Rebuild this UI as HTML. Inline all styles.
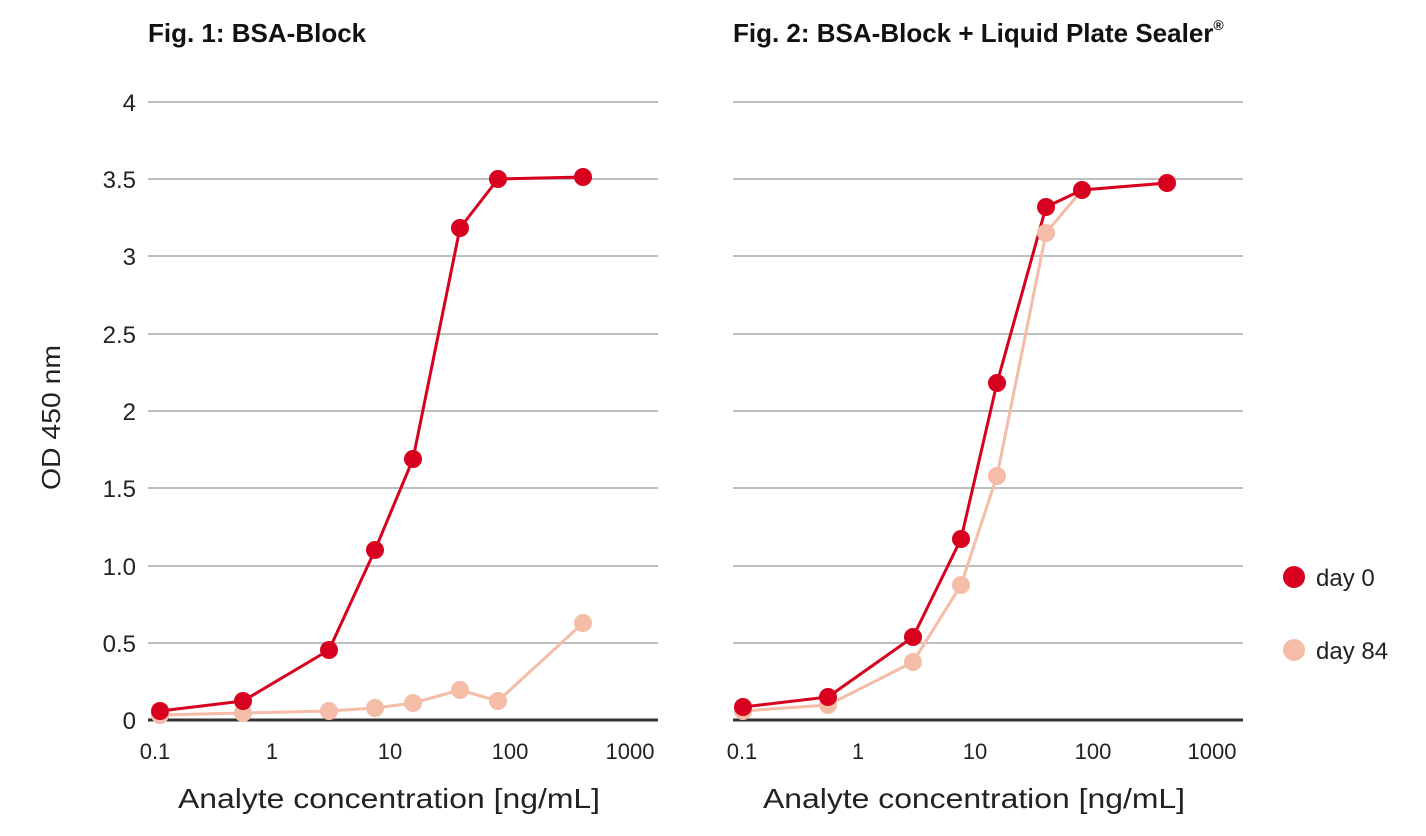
<!DOCTYPE html>
<html><head><meta charset="utf-8"><style>
body{margin:0;background:#fff}
svg text{font-family:"Liberation Sans",sans-serif}
</style></head><body>
<svg width="1426" height="831" viewBox="0 0 1426 831" xmlns="http://www.w3.org/2000/svg">
<g font-size="26" font-weight="bold" fill="#111">
<text x="148" y="42">Fig. 1: BSA-Block</text>
<text x="733" y="42">Fig. 2: BSA-Block + Liquid Plate Sealer<tspan font-size="14" dy="-12">®</tspan></text>
</g>
<g stroke="#a8a8a8" stroke-width="1.5">
<line x1="148" x2="658" y1="102" y2="102"/><line x1="148" x2="658" y1="179" y2="179"/><line x1="148" x2="658" y1="256" y2="256"/><line x1="148" x2="658" y1="334" y2="334"/><line x1="148" x2="658" y1="411" y2="411"/><line x1="148" x2="658" y1="488" y2="488"/><line x1="148" x2="658" y1="566" y2="566"/><line x1="148" x2="658" y1="643" y2="643"/>
<line x1="733" x2="1243" y1="102" y2="102"/><line x1="733" x2="1243" y1="179" y2="179"/><line x1="733" x2="1243" y1="256" y2="256"/><line x1="733" x2="1243" y1="334" y2="334"/><line x1="733" x2="1243" y1="411" y2="411"/><line x1="733" x2="1243" y1="488" y2="488"/><line x1="733" x2="1243" y1="566" y2="566"/><line x1="733" x2="1243" y1="643" y2="643"/>
</g>
<g stroke="#333" stroke-width="3"><line x1="148" x2="658" y1="720" y2="720"/><line x1="733" x2="1243" y1="720" y2="720"/></g>
<g font-size="24" fill="#222" text-anchor="end">
<text x="136" y="111">4</text><text x="136" y="188">3.5</text><text x="136" y="265">3</text><text x="136" y="343">2.5</text><text x="136" y="420">2</text><text x="136" y="497">1.5</text><text x="136" y="575">1.0</text><text x="136" y="652">0.5</text><text x="136" y="729">0</text>
</g>
<g font-size="22" fill="#222" text-anchor="middle">
<text x="155" y="759">0.1</text><text x="272" y="759">1</text><text x="390" y="759">10</text><text x="510" y="759">100</text><text x="630" y="759">1000</text>
<text x="742" y="759">0.1</text><text x="858" y="759">1</text><text x="975" y="759">10</text><text x="1093" y="759">100</text><text x="1212" y="759">1000</text>
</g>
<g font-size="28" fill="#222">
<text x="178" y="808" textLength="422" lengthAdjust="spacingAndGlyphs">Analyte concentration [ng/mL]</text>
<text x="763" y="808" textLength="422" lengthAdjust="spacingAndGlyphs">Analyte concentration [ng/mL]</text>
<text transform="translate(60,490) rotate(-90)" font-size="26" textLength="145" lengthAdjust="spacingAndGlyphs">OD 450 nm</text>
</g>
<g fill="none" stroke-width="3" stroke-linejoin="round">
<polyline stroke="#f5bca8" points="160,715 243,713 329,711 375,708 413,703 460,690 498,701 583,623"/>
<polyline stroke="#d7001f" points="160,711 243,701 329,650 375,550 413,459 460,228 498,179 583,177"/>
<polyline stroke="#f5bca8" points="743,711 828,705 913,662 961,585 997,476 1046,233 1082,190 1167,183"/>
<polyline stroke="#d7001f" points="743,707 828,697 913,637 961,539 997,383 1046,207 1082,190 1167,183"/>
</g>
<g fill="#f5bca8">
<circle cx="160" cy="715" r="9"/><circle cx="243" cy="713" r="9"/><circle cx="329" cy="711" r="9"/><circle cx="375" cy="708" r="9"/><circle cx="413" cy="703" r="9"/><circle cx="460" cy="690" r="9"/><circle cx="498" cy="701" r="9"/><circle cx="583" cy="623" r="9"/>
<circle cx="743" cy="711" r="9"/><circle cx="828" cy="705" r="9"/><circle cx="913" cy="662" r="9"/><circle cx="961" cy="585" r="9"/><circle cx="997" cy="476" r="9"/><circle cx="1046" cy="233" r="9"/>
<circle cx="1294" cy="650" r="11"/>
</g>
<g fill="#d7001f">
<circle cx="160" cy="711" r="9"/><circle cx="243" cy="701" r="9"/><circle cx="329" cy="650" r="9"/><circle cx="375" cy="550" r="9"/><circle cx="413" cy="459" r="9"/><circle cx="460" cy="228" r="9"/><circle cx="498" cy="179" r="9"/><circle cx="583" cy="177" r="9"/>
<circle cx="743" cy="707" r="9"/><circle cx="828" cy="697" r="9"/><circle cx="913" cy="637" r="9"/><circle cx="961" cy="539" r="9"/><circle cx="997" cy="383" r="9"/><circle cx="1046" cy="207" r="9"/><circle cx="1082" cy="190" r="9"/><circle cx="1167" cy="183" r="9"/>
<circle cx="1294" cy="577" r="11"/>
</g>
<g font-size="24" fill="#222">
<text x="1316" y="586">day 0</text><text x="1316" y="659">day 84</text>
</g>
</svg>
</body></html>
